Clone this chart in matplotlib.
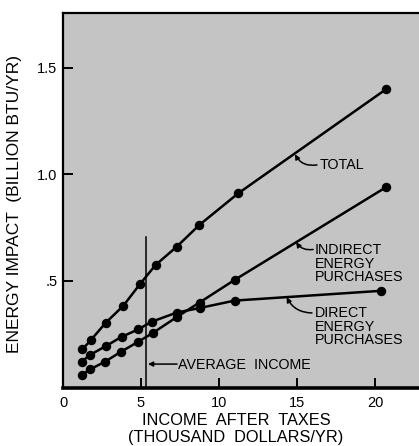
import numpy as np
import matplotlib
matplotlib.use("Agg")
import matplotlib.pyplot as plt

# values
income_total = [1.24, 1.79, 2.74, 3.87, 4.94, 5.93, 7.29, 8.74, 11.24, 20.7]
energy_total = [0.179, 0.223, 0.304, 0.384, 0.486, 0.575, 0.661, 0.763, 0.912, 1.40]

income_indirect = [1.20, 1.73, 2.69, 3.72, 4.83, 5.80, 7.30, 8.75, 11.0, 20.7]
energy_indirect = [0.059, 0.085, 0.121, 0.168, 0.215, 0.258, 0.331, 0.399, 0.505, 0.94]

income_direct = [1.20, 1.73, 2.76, 3.76, 4.83, 5.69, 7.30, 8.75, 11.0, 20.4]
energy_direct = [0.121, 0.153, 0.195, 0.238, 0.273, 0.309, 0.352, 0.373, 0.408, 0.454]

average_income = 5.32
average_line_top = 0.705

x_ticks = [0, 5, 10, 15, 20]
x_ticklabels = ['0', '5', '10', '15', '20']
y_ticks = [0.5, 1.0, 1.5]
y_ticklabels = ['.5', '1.0', '1.5']

plt.rcParams['font.family'] = ['Liberation Sans', 'DejaVu Sans']

fig = plt.figure(figsize=(4.19, 4.46), dpi=100)
ax = fig.add_axes([63/419, 1 - 387.5/446, 1 - 63/419, (387.5 - 13)/446])
ax.set_facecolor('#c4c4c4')

# the three series
for xs, ys in [(income_total, energy_total), (income_indirect, energy_indirect), (income_direct, energy_direct)]:
    ax.plot(xs, ys, color='black', lw=1.8, marker='o', ms=5.8, mfc='black', mec='black', zorder=3)

# average income marker line
ax.plot([average_income, average_income], [0, average_line_top], color='black', lw=1.1, zorder=2)

ax.set_xlim(0, (419 - 63)/15.6)
ax.set_ylim(0, (387.5 - 13)/213)

ax.set_xticks(x_ticks)
ax.set_xticklabels(x_ticklabels)
ax.set_yticks(y_ticks)
ax.set_yticklabels(y_ticklabels)
ax.tick_params(axis='both', direction='in', length=7, width=1.4, labelsize=10.5, colors='black')
ax.tick_params(axis='x', pad=6)
ax.tick_params(axis='y', pad=4)

for side in ['left', 'top']:
    ax.spines[side].set_linewidth(1.6)
ax.spines['bottom'].set_linewidth(2.6)
ax.spines['right'].set_visible(False)

ax.set_ylabel('ENERGY IMPACT  (BILLION BTU/YR)', fontsize=12.5, va='center')
ax.yaxis.set_label_coords(-(63 - 15)/(419 - 63), 0.49)
ax.set_xlabel('INCOME  AFTER  TAXES\n(THOUSAND  DOLLARS/YR)', fontsize=11.8, linespacing=1.1, va='center')
ax.xaxis.set_label_coords((236 - 63)/(419 - 63), -(429 - 387.5)/(387.5 - 13))

# leader arrows and labels
arrow = dict(arrowstyle='-|>', color='black', lw=1.1, mutation_scale=7, shrinkA=0, shrinkB=0)

ax.annotate('', xy=(14.87, 1.095), xytext=(16.28, 1.045),
            arrowprops=dict(arrow, connectionstyle='arc3,rad=-0.35'))
ax.text(16.47, 1.045, 'TOTAL', fontsize=10.3, ha='left', va='center')

ax.annotate('', xy=(14.94, 0.682), xytext=(16.03, 0.648),
            arrowprops=dict(arrow, connectionstyle='arc3,rad=-0.3'))
ax.text(16.15, 0.582, 'INDIRECT\nENERGY\nPURCHASES', fontsize=10.3, ha='left', va='center', linespacing=0.95)

ax.annotate('', xy=(14.34, 0.424), xytext=(15.96, 0.35),
            arrowprops=dict(arrow, connectionstyle='arc3,rad=-0.3'))
ax.text(16.15, 0.286, 'DIRECT\nENERGY\nPURCHASES', fontsize=10.3, ha='left', va='center', linespacing=0.95)

ax.annotate('', xy=(5.45, 0.110), xytext=(7.31, 0.110), arrowprops=arrow)
ax.text(7.37, 0.106, 'AVERAGE  INCOME', fontsize=10.3, ha='left', va='center')

fig.savefig('out.png', dpi=100)
